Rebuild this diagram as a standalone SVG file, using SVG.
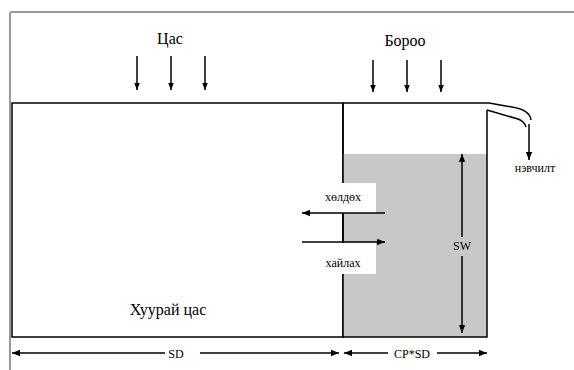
<svg xmlns="http://www.w3.org/2000/svg" width="574" height="370" viewBox="0 0 574 370">
<defs>
<marker id="ah" viewBox="0 0 10 10" refX="10" refY="5" markerWidth="9" markerHeight="8" markerUnits="userSpaceOnUse" orient="auto">
<path d="M0,1 L10,5 L0,9 Z" fill="#000"/>
</marker>
<marker id="ahs" viewBox="0 0 10 10" refX="10" refY="5" markerWidth="8" markerHeight="7" markerUnits="userSpaceOnUse" orient="auto">
<path d="M0,1 L10,5 L0,9 Z" fill="#000"/>
</marker>
</defs>
<style>
.ln{stroke:#000;stroke-width:1.5;fill:none}
.fr{stroke:#999;stroke-width:2;fill:none}
.big{font-family:"Liberation Serif","DejaVu Serif",serif;font-size:16px;fill:#000}
.sm{font-family:"Liberation Serif","DejaVu Serif",serif;font-size:12px;fill:#000}
</style>
<rect x="0" y="0" width="574" height="370" fill="#fff"/>
<g id="frame">
<path class="fr" d="M10,370 L10,14 Q10,12 12,12 L574,12"/>
</g>
<g id="soil">
<rect x="12" y="103" width="331" height="234" fill="#fff" class="ln"/>
<text class="big" x="168" y="315" text-anchor="middle">Хуурай цас</text>
</g>
<g id="water">
<rect x="343" y="154" width="144" height="183" fill="#c8c8c8"/>
<path class="ln" d="M343,103 L489,103 M343,103 L343,337 L487,337 L487,110"/>
</g>
<g id="labels">
<rect x="290" y="183" width="86" height="30" fill="#fff"/>
<rect x="290" y="243" width="86" height="31" fill="#fff"/>
<text class="sm" x="343" y="201" text-anchor="middle">хөлдөх</text>
<text class="sm" x="343" y="267" text-anchor="middle">хайлах</text>
<text class="big" x="170" y="44" text-anchor="middle">Цас</text>
<text class="big" x="405" y="46" text-anchor="middle">Бороо</text>
<text class="sm" x="535" y="172" text-anchor="middle">нэвчилт</text>
<text class="sm" x="462" y="250" text-anchor="middle">SW</text>
<text class="sm" x="176" y="358" text-anchor="middle">SD</text>
<text class="sm" x="412" y="358" text-anchor="middle">CP*SD</text>
</g>
<g id="connectors">
<path class="ln" d="M137,56 V90" marker-end="url(#ahs)"/>
<path class="ln" d="M171,56 V90" marker-end="url(#ahs)"/>
<path class="ln" d="M205,56 V90" marker-end="url(#ahs)"/>
<path class="ln" d="M373,60 V92" marker-end="url(#ahs)"/>
<path class="ln" d="M407,60 V92" marker-end="url(#ahs)"/>
<path class="ln" d="M441,60 V92" marker-end="url(#ahs)"/>
<path class="ln" d="M489,103 L512,107 Q530,110 531,120" stroke-width="1.2"/>
<path class="ln" d="M487,110 L518,119 Q524,121 526,127" stroke-width="1.2"/>
<path class="ln" d="M529,124 V160" marker-end="url(#ah)"/>
<path class="ln" d="M385,213 H302" marker-end="url(#ah)"/>
<path class="ln" d="M302,242 H385" marker-end="url(#ah)"/>
<path class="ln" d="M343,213 V242"/>
<path class="ln" d="M462,237 V154" marker-end="url(#ah)"/>
<path class="ln" d="M462,256 V333" marker-end="url(#ah)"/>
<path class="ln" d="M165,353 H12" marker-end="url(#ah)"/>
<path class="ln" d="M200,353 H339" marker-end="url(#ah)"/>
<path class="ln" d="M388,353 H344" marker-end="url(#ah)"/>
<path class="ln" d="M437,353 H487" marker-end="url(#ah)"/>
</g>
</svg>
